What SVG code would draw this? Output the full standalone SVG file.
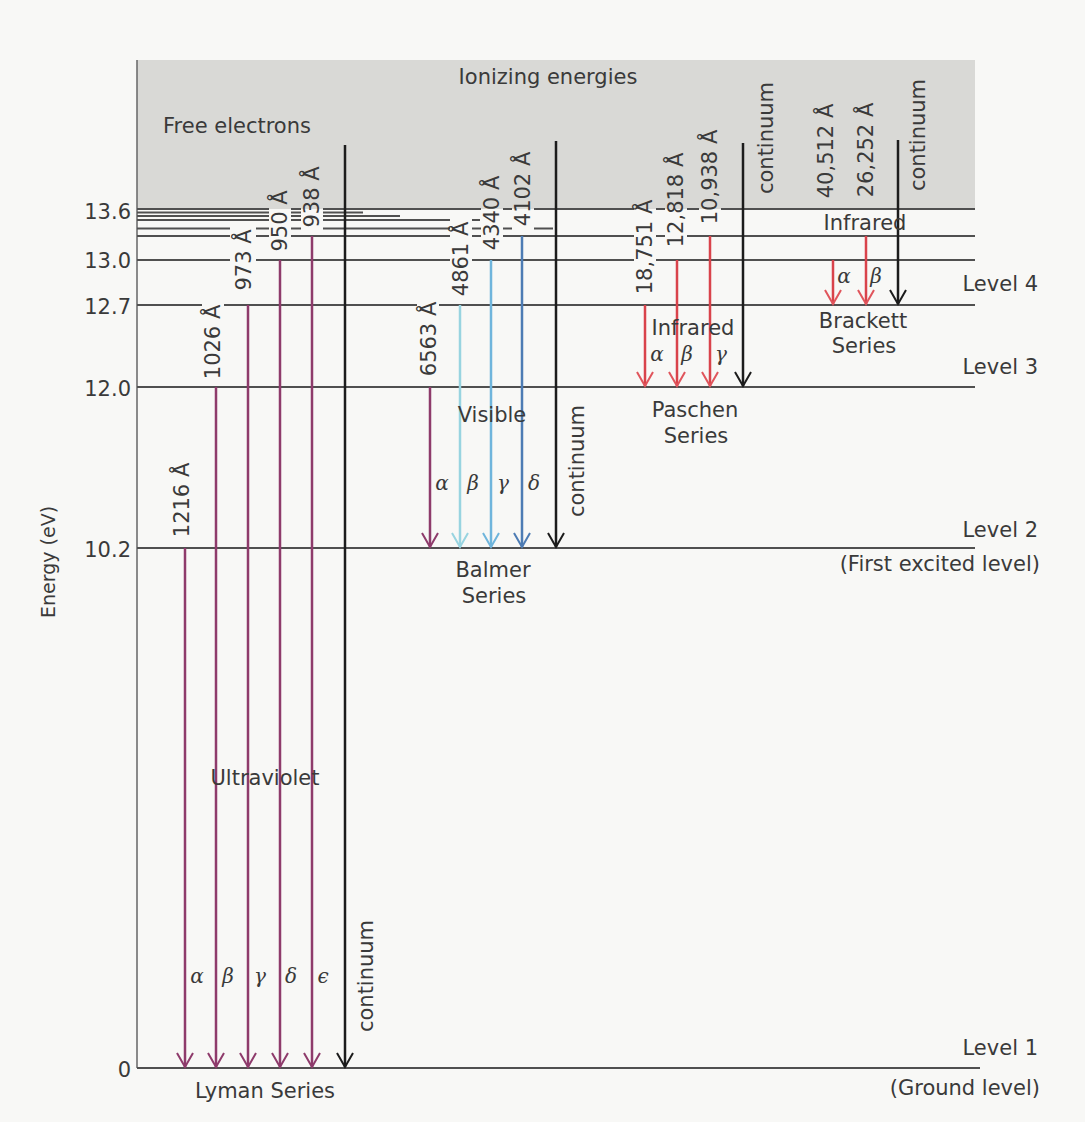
<svg xmlns="http://www.w3.org/2000/svg" width="1085" height="1122" viewBox="0 0 1085 1122">
<defs>
<style>
.t{font-family:"DejaVu Sans","Liberation Sans",sans-serif;font-size:21px;fill:#3a3a3a}
.tm{text-anchor:middle}
.te{text-anchor:end}
.g{font-family:"DejaVu Serif","Liberation Serif",serif;font-style:italic;font-size:20px;fill:#3a3a3a;text-anchor:middle}
.lv{stroke:#505050;stroke-width:2;fill:none}
.a{fill:none;stroke-width:2.5}
.pu{stroke:#8e3b6b}
.cy{stroke:#98d4e0}
.lb{stroke:#6fb5dc}
.bl{stroke:#4d7cb4}
.rd{stroke:#d9434b}
.bk{stroke:#1c1c1c}
</style>
<marker id="mpu" viewBox="-16 -10 18 20" refX="0" refY="0" markerWidth="18" markerHeight="20" markerUnits="userSpaceOnUse" orient="auto"><path d="M-14,-8 L0,0 L-14,8" fill="none" stroke="#8e3b6b" stroke-width="2"/></marker>
<marker id="mcy" viewBox="-16 -10 18 20" refX="0" refY="0" markerWidth="18" markerHeight="20" markerUnits="userSpaceOnUse" orient="auto"><path d="M-14,-8 L0,0 L-14,8" fill="none" stroke="#98d4e0" stroke-width="2"/></marker>
<marker id="mlb" viewBox="-16 -10 18 20" refX="0" refY="0" markerWidth="18" markerHeight="20" markerUnits="userSpaceOnUse" orient="auto"><path d="M-14,-8 L0,0 L-14,8" fill="none" stroke="#6fb5dc" stroke-width="2"/></marker>
<marker id="mbl" viewBox="-16 -10 18 20" refX="0" refY="0" markerWidth="18" markerHeight="20" markerUnits="userSpaceOnUse" orient="auto"><path d="M-14,-8 L0,0 L-14,8" fill="none" stroke="#4d7cb4" stroke-width="2"/></marker>
<marker id="mrd" viewBox="-16 -10 18 20" refX="0" refY="0" markerWidth="18" markerHeight="20" markerUnits="userSpaceOnUse" orient="auto"><path d="M-14,-8 L0,0 L-14,8" fill="none" stroke="#e0555c" stroke-width="2"/></marker>
<marker id="mbk" viewBox="-16 -10 18 20" refX="0" refY="0" markerWidth="18" markerHeight="20" markerUnits="userSpaceOnUse" orient="auto"><path d="M-14,-8 L0,0 L-14,8" fill="none" stroke="#1c1c1c" stroke-width="2"/></marker>
<mask id="gaps" maskUnits="userSpaceOnUse" x="0" y="0" width="1085" height="1122">
<rect x="0" y="0" width="1085" height="1122" fill="#fff"/>
<rect x="202" y="298" width="22" height="86" fill="#000"/>
<rect x="230" y="226" width="26" height="68" fill="#000"/>
<rect x="269" y="187" width="22" height="68" fill="#000"/>
<rect x="301" y="160" width="22" height="73" fill="#000"/>
<rect x="417" y="297" width="22" height="84" fill="#000"/>
<rect x="450" y="215" width="22" height="87" fill="#000"/>
<rect x="481" y="169" width="22" height="88" fill="#000"/>
<rect x="512" y="147" width="22" height="83" fill="#000"/>
<rect x="634" y="195" width="22" height="104" fill="#000"/>
<rect x="665" y="147" width="22" height="105" fill="#000"/>
<rect x="699" y="125" width="22" height="104" fill="#000"/>
</mask>
</defs>

<rect x="0" y="0" width="1085" height="1122" fill="#f8f8f6"/>
<g id="ionization-region">
<rect x="137" y="60" width="838" height="149" fill="#d9d9d6"/>
<text class="t tm" x="548" y="84">Ionizing energies</text>
<text class="t" x="163" y="133">Free electrons</text>
</g>

<g id="axis">
<line x1="137" y1="60" x2="137" y2="1068" stroke="#666" stroke-width="1.5"/>
<text class="t" x="55" y="562" transform="rotate(-90 55 562)" text-anchor="middle" style="font-size:19px">Energy (eV)</text>
<text class="t te" x="131" y="219">13.6</text>
<text class="t te" x="131" y="268">13.0</text>
<text class="t te" x="131" y="314">12.7</text>
<text class="t te" x="131" y="396">12.0</text>
<text class="t te" x="131" y="557">10.2</text>
<text class="t te" x="131" y="1077">0</text>
</g>

<g id="levels" mask="url(#gaps)">
<line class="lv" x1="137" y1="209" x2="975" y2="209"/>
<line class="lv" x1="137" y1="212.5" x2="363" y2="212.5"/>
<line class="lv" x1="137" y1="216" x2="400" y2="216"/>
<line class="lv" x1="137" y1="220" x2="480" y2="220"/>
<line class="lv" x1="137" y1="228.5" x2="553" y2="228.5"/>
<line class="lv" x1="137" y1="236" x2="975" y2="236"/>
<line class="lv" x1="137" y1="260" x2="975" y2="260"/>
<line class="lv" x1="137" y1="305" x2="975" y2="305"/>
<line class="lv" x1="137" y1="387" x2="975" y2="387"/>
<line class="lv" x1="137" y1="548" x2="975" y2="548"/>
<line class="lv" x1="137" y1="1068" x2="980" y2="1068"/>
</g>

<g id="level-labels">
<text class="t te" x="1038" y="291">Level 4</text>
<text class="t te" x="1038" y="374">Level 3</text>
<text class="t te" x="1038" y="537">Level 2</text>
<text class="t te" x="1040" y="571">(First excited level)</text>
<text class="t te" x="1038" y="1055">Level 1</text>
<text class="t te" x="1040" y="1095">(Ground level)</text>
</g>

<g id="connectors">
<!-- Lyman -->
<line class="a pu" x1="185" y1="548" x2="185" y2="1067" marker-end="url(#mpu)"/>
<line class="a pu" x1="216" y1="387" x2="216" y2="1067" marker-end="url(#mpu)"/>
<line class="a pu" x1="248" y1="305" x2="248" y2="1067" marker-end="url(#mpu)"/>
<line class="a pu" x1="280" y1="260" x2="280" y2="1067" marker-end="url(#mpu)"/>
<line class="a pu" x1="312" y1="236" x2="312" y2="1067" marker-end="url(#mpu)"/>
<line class="a bk" x1="345" y1="145" x2="345" y2="1067" marker-end="url(#mbk)"/>
<!-- Balmer -->
<line class="a pu" x1="430" y1="387" x2="430" y2="547" marker-end="url(#mpu)"/>
<line class="a cy" x1="460" y1="305" x2="460" y2="547" marker-end="url(#mcy)"/>
<line class="a lb" x1="491" y1="260" x2="491" y2="547" marker-end="url(#mlb)"/>
<line class="a bl" x1="522" y1="236" x2="522" y2="547" marker-end="url(#mbl)"/>
<line class="a bk" x1="556" y1="141" x2="556" y2="547" marker-end="url(#mbk)"/>
<!-- Paschen -->
<line class="a rd" x1="645" y1="305" x2="645" y2="386" marker-end="url(#mrd)"/>
<line class="a rd" x1="677" y1="260" x2="677" y2="386" marker-end="url(#mrd)"/>
<line class="a rd" x1="710" y1="236" x2="710" y2="386" marker-end="url(#mrd)"/>
<line class="a bk" x1="743" y1="143" x2="743" y2="386" marker-end="url(#mbk)"/>
<!-- Brackett -->
<line class="a rd" x1="833" y1="260" x2="833" y2="304" marker-end="url(#mrd)"/>
<line class="a rd" x1="866" y1="236" x2="866" y2="304" marker-end="url(#mrd)"/>
<line class="a bk" x1="898" y1="140" x2="898" y2="304" marker-end="url(#mbk)"/>
</g>

<g id="lyman-series">
<text class="t tm" transform="translate(189 500) rotate(-90)">1216 Å</text>
<text class="t tm" transform="translate(220 342) rotate(-90)">1026 Å</text>
<text class="t tm" transform="translate(251 260) rotate(-90)">973 Å</text>
<text class="t tm" transform="translate(287 221) rotate(-90)">950 Å</text>
<text class="t tm" transform="translate(319 197) rotate(-90)">938 Å</text>
<text class="t tm" transform="translate(373 976) rotate(-90)">continuum</text>
<text class="g" x="197" y="983">α</text>
<text class="g" x="228" y="983">β</text>
<text class="g" x="260" y="983">γ</text>
<text class="g" x="291" y="983">δ</text>
<text class="g" x="323" y="983">ϵ</text>
<text class="t tm" x="265" y="785">Ultraviolet</text>
<text class="t tm" x="265" y="1098">Lyman Series</text>
</g>

<g id="balmer-series">
<text class="t tm" transform="translate(436 339) rotate(-90)">6563 Å</text>
<text class="t tm" transform="translate(468 259) rotate(-90)">4861 Å</text>
<text class="t tm" transform="translate(499 213) rotate(-90)">4340 Å</text>
<text class="t tm" transform="translate(530 189) rotate(-90)">4102 Å</text>
<text class="t tm" transform="translate(584 461) rotate(-90)">continuum</text>
<text class="g" x="442" y="490">α</text>
<text class="g" x="473" y="490">β</text>
<text class="g" x="503" y="490">γ</text>
<text class="g" x="534" y="490">δ</text>
<text class="t tm" x="492" y="422">Visible</text>
<text class="t tm" x="493" y="577">Balmer</text>
<text class="t tm" x="494" y="603">Series</text>
</g>

<g id="paschen-series">
<text class="t tm" transform="translate(652 247) rotate(-90)">18,751 Å</text>
<text class="t tm" transform="translate(683 200) rotate(-90)">12,818 Å</text>
<text class="t tm" transform="translate(717 177) rotate(-90)">10,938 Å</text>
<text class="t tm" transform="translate(773 138) rotate(-90)">continuum</text>
<text class="g" x="657" y="361">α</text>
<text class="g" x="687" y="361">β</text>
<text class="g" x="721" y="361">γ</text>
<text class="t tm" x="693" y="335">Infrared</text>
<text class="t tm" x="695" y="417">Paschen</text>
<text class="t tm" x="696" y="443">Series</text>
</g>

<g id="brackett-series">
<text class="t tm" transform="translate(833 151) rotate(-90)">40,512 Å</text>
<text class="t tm" transform="translate(873 150) rotate(-90)">26,252 Å</text>
<text class="t tm" transform="translate(925 135) rotate(-90)">continuum</text>
<text class="g" x="844" y="283">α</text>
<text class="g" x="876" y="283">β</text>
<text class="t tm" x="865" y="230">Infrared</text>
<text class="t tm" x="863" y="328">Brackett</text>
<text class="t tm" x="864" y="353">Series</text>
</g>
</svg>
